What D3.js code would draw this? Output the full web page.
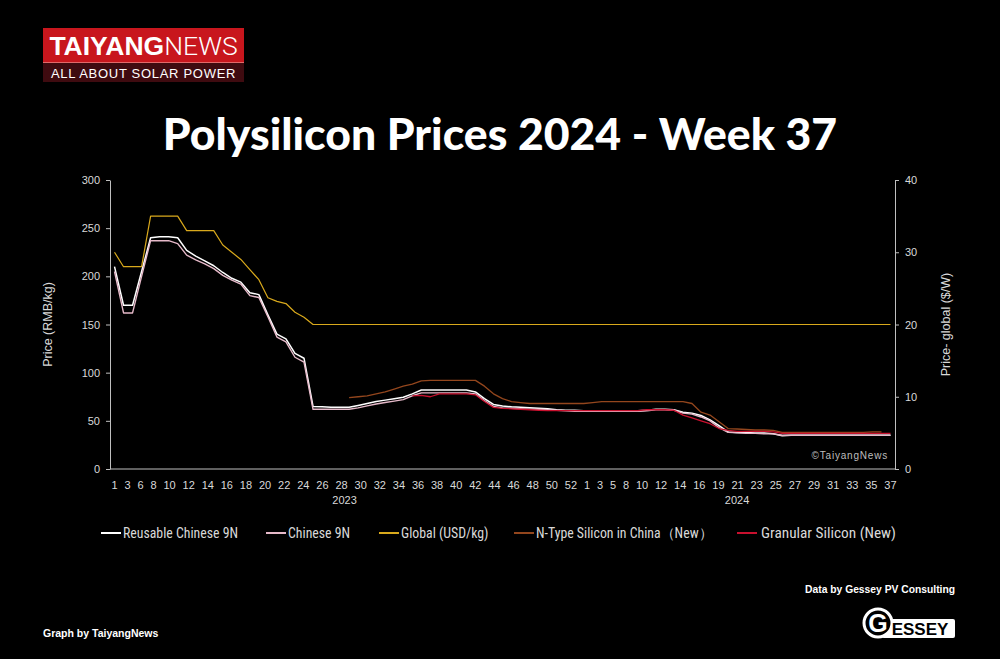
<!DOCTYPE html>
<html>
<head>
<meta charset="utf-8">
<script src="https://cdn.jsdelivr.net/npm/d3@7"></script>
<style>
  html, body { margin: 0; background: #000; }
  svg { display: block; font-family: "Liberation Sans", Arial, sans-serif; }
</style>
</head>
<body>
<svg id="chart" width="1000" height="659"></svg>
<script>
// categories: one point per week, labels shown on every other week
const yearGroups = [
  { year: "2023", count: 52 },
  { year: "2024", count: 35 },
];
const weekLabels = [
  "1", "3", "6", "8", "10", "12", "14", "16", "18", "20", "22", "24", "26",
  "28", "30", "32", "34", "36", "38", "40", "42", "44", "46", "48", "50", "52",
  "1", "3", "5", "8", "10", "12", "14", "16", "19", "21", "23", "25", "27",
  "29", "31", "33", "35", "37",
];
const leftTicks = [0, 50, 100, 150, 200, 250, 300];
const rightTicks = [0, 10, 20, 30, 40];

// RMB/kg
const reusable9N = [
  210, 170, 170, 205, 240, 241, 241, 240, 227, 221, 216, 211, 204, 198, 194, 183,
  181, 160, 140, 135, 120, 115, 65, 64.5, 64, 64, 64, 66, 68, 70, 71.5, 73,
  74.5, 78, 82, 82, 82, 82, 82, 82, 80, 73, 67, 65.5, 64.5, 64, 63.5, 63,
  62.5, 61.5, 61, 61,
  60.5, 60.5, 60.5, 60.5, 60.5, 60.5, 60.5, 61, 62, 62, 61.5, 59, 58, 55.5, 51, 45,
  38.5, 38, 38, 37.5, 37.5, 36.5, 34.5, 35, 35, 35, 35, 35, 35, 35, 35, 35,
  35, 35, 35,
];
const chinese9N = [
  205, 162, 162, 200, 237, 237, 237, 234, 222, 217, 213, 208, 201, 196, 192, 180,
  178, 158, 137, 132, 116, 111, 62, 62, 62, 62, 62, 63.5, 65.5, 67.5, 69, 70.5,
  72, 76, 79, 79, 79, 79, 79, 79, 78, 71, 65, 63.5, 63, 62.5, 62, 62,
  61.5, 61, 60.5, 60,
  60, 60, 60, 60, 60, 60, 60, 60.5, 61.5, 61.5, 61, 58, 57, 54, 50, 43,
  38, 37.5, 37, 37, 36.5, 36.5, 35, 35, 35, 35, 35, 35, 35, 35, 35, 35,
  35, 35, 35,
];
const nTypeChina = [
  null, null, null, null, null, null, null, null, null, null, null, null, null,
  null, null, null, null, null, null, null, null, null, null, null, null, null,
  74, 75, 76, 78, 80, 83, 86, 88, 91.5, 92, 92, 92, 92, 92, 92, 86,
  78, 73, 70, 69, 68, 68, 68, 68, 68, 68,
  68, 69, 70, 70, 70, 70, 70, 70, 70, 70, 70, 70, 68, 59, 56, 49,
  42, 41.5, 41, 40.5, 40.5, 40, 38, 38, 38, 38, 38, 38, 38, 38, 38, 38,
  38.5, 38.5,
];
const granular = [
  null, null, null, null, null, null, null, null, null, null, null, null, null,
  null, null, null, null, null, null, null, null, null, null, null, null, null,
  null, null, null, null, null, null, null,
  76, 76.5, 75, 78, 78, 78, 78, 77, 70, 64, 63, 62.5, 62, 61.5, 61,
  60.5, 60.5, 60.5, 60.5,
  60.5, 60.5, 60.5, 60.5, 60.5, 60.5, 60.5, 61.5, 61.5, 61.5, 61, 56, 53, 50, 47, 42,
  40, 39, 39, 39, 39, 38.5, 37, 37, 37, 37, 37, 37, 37, 37, 37, 37,
  37, 37, 37,
];
// USD/kg, right axis
const globalUsd = [
  30, 28, 28, 28, 35, 35, 35, 35, 33, 33, 33, 33, 31, 30, 29, 27.6,
  26.2, 23.7, 23.2, 22.9, 21.7, 21, 20, 20, 20, 20, 20, 20, 20, 20, 20, 20,
  20, 20, 20, 20, 20, 20, 20, 20, 20, 20, 20, 20, 20, 20, 20, 20,
  20, 20, 20, 20,
  20, 20, 20, 20, 20, 20, 20, 20, 20, 20, 20, 20, 20, 20, 20, 20,
  20, 20, 20, 20, 20, 20, 20, 20, 20, 20, 20, 20, 20, 20, 20, 20,
  20, 20, 20,
];

const series = [
  { name: "Reusable Chinese 9N", values: reusable9N, axis: "left", color: "#ffffff", width: 1.5 },
  { name: "Chinese 9N", values: chinese9N, axis: "left", color: "#e6b9c9", width: 1.4 },
  { name: "Global (USD/kg)", values: globalUsd, axis: "right", color: "#d9a91c", width: 1.2 },
  { name: "N-Type Silicon in China（New）", values: nTypeChina, axis: "left", color: "#93461d", width: 1.3 },
  { name: "Granular Silicon (New)", values: granular, axis: "left", color: "#c8102e", width: 1.3 },
];

const svg = d3.select("#chart");
const W = 1000, H = 659;
const plot = { left: 110, right: 895, top: 180, bottom: 469 };

svg.append("rect").attr("width", W).attr("height", H).attr("fill", "#000");

const nPoints = d3.sum(yearGroups, (d) => d.count);
const idx = d3.range(nPoints);
const x = d3.scalePoint().domain(idx).range([plot.left, plot.right]).padding(0.5);
const yL = d3.scaleLinear().domain([0, 300]).range([plot.bottom, plot.top]);
const yR = d3.scaleLinear().domain([0, 40]).range([plot.bottom, plot.top]);

// logo
const logo = svg.append("g").attr("transform", "translate(43,28)");
logo.append("rect").attr("width", 201).attr("height", 35).attr("fill", "#c8161d");
logo.append("rect").attr("y", 35).attr("width", 201).attr("height", 19).attr("fill", "#3f0b10");
logo.append("rect").attr("y", 34).attr("width", 201).attr("height", 1).attr("fill", "#e06a6a");
logo.append("text")
  .attr("x", 100.5).attr("y", 27).attr("text-anchor", "middle")
  .attr("fill", "#fff").attr("font-size", 26.5)
  .call((t) => t.append("tspan").attr("font-weight", 700).text("TAIYANG"))
  .call((t) => t.append("tspan").attr("font-family", "Roboto, sans-serif").attr("font-weight", 300).text("NEWS"));
logo.append("text")
  .attr("x", 100.5).attr("y", 49.5).attr("text-anchor", "middle")
  .attr("fill", "#fff").attr("font-size", 13).attr("letter-spacing", 0.7)
  .text("ALL ABOUT SOLAR POWER");

// title
svg.append("text")
  .attr("x", 500).attr("y", 150).attr("text-anchor", "middle")
  .attr("fill", "#fff").attr("font-family", "Lato, 'Open Sans', sans-serif")
  .attr("font-weight", 900).attr("font-size", 44.5)
  .text("Polysilicon Prices 2024 - Week 37");

// axes
const axisColor = "#bfbfbf";
const tickColor = "#d9d9d9";

const gL = svg.append("g")
  .attr("transform", `translate(${plot.left},0)`)
  .call(d3.axisLeft(yL).tickValues(leftTicks).tickSizeInner(4).tickSizeOuter(0).tickPadding(6));
const gR = svg.append("g")
  .attr("transform", `translate(${plot.right},0)`)
  .call(d3.axisRight(yR).tickValues(rightTicks).tickSizeInner(4).tickSizeOuter(0).tickPadding(6));
[gL, gR].forEach((g) => {
  g.select(".domain").attr("stroke", axisColor);
  g.selectAll(".tick line").attr("stroke", axisColor);
  g.selectAll(".tick text")
    .attr("fill", tickColor)
    .style("fill", tickColor)
    .attr("font-family", "'Liberation Sans', Arial, sans-serif")
    .attr("font-size", 11);
});

svg.append("line")
  .attr("x1", plot.left).attr("x2", plot.right)
  .attr("y1", plot.bottom).attr("y2", plot.bottom)
  .attr("stroke", axisColor);

svg.append("text")
  .attr("transform", `translate(52,${(plot.top + plot.bottom) / 2}) rotate(-90)`)
  .attr("text-anchor", "middle").attr("fill", tickColor).attr("font-size", 12.5)
  .text("Price (RMB/kg)");
svg.append("text")
  .attr("transform", `translate(950,${(plot.top + plot.bottom) / 2}) rotate(-90)`)
  .attr("text-anchor", "middle").attr("fill", tickColor).attr("font-size", 12.5)
  .text("Price- global ($/W)");

// week labels: evenly gapped between the first and last point
const weekText = svg.append("g")
  .selectAll("text")
  .data(weekLabels)
  .join("text")
  .attr("y", 489)
  .attr("text-anchor", "middle")
  .attr("fill", tickColor)
  .attr("font-size", 11)
  .text((d) => d);
const widths = weekText.nodes().map((n) => n.getComputedTextLength());
const start = x(0) - widths[0] / 2;
const end = x(nPoints - 1) + widths[widths.length - 1] / 2;
const gap = (end - start - d3.sum(widths)) / (widths.length - 1);
let cursor = start;
weekText.attr("x", (d, i) => {
  const cx = cursor + widths[i] / 2;
  cursor += widths[i] + gap;
  return cx;
});

// year labels, centred under their weeks
let offset = 0;
yearGroups.forEach((g) => {
  const cx = (x(offset) + x(offset + g.count - 1)) / 2;
  offset += g.count;
  svg.append("text")
    .attr("x", cx).attr("y", 504).attr("text-anchor", "middle")
    .attr("fill", tickColor).attr("font-size", 11)
    .text(g.year);
});

// lines
const gLines = svg.append("g");
series.forEach((s) => {
  const y = s.axis === "left" ? yL : yR;
  const line = d3.line()
    .defined((d) => d != null)
    .x((d, i) => x(i))
    .y((d) => y(d));
  gLines.append("path")
    .datum(s.values)
    .attr("fill", "none")
    .attr("stroke", s.color)
    .attr("stroke-width", s.width)
    .attr("stroke-linejoin", "round")
    .attr("d", line);
});

svg.append("text")
  .attr("x", 888).attr("y", 459).attr("text-anchor", "end")
  .attr("fill", "#bdbdbd").attr("font-size", 10).attr("letter-spacing", 0.8)
  .text("©TaiyangNews");

// legend
const legendX = [101, 266, 379, 514, 737];
const legend = svg.append("g")
  .selectAll("g")
  .data(series)
  .join("g")
  .attr("transform", (d, i) => `translate(${legendX[i]},533)`);
legend.append("line")
  .attr("x1", 0).attr("x2", 20)
  .attr("stroke", (d) => d.color).attr("stroke-width", 2);
legend.append("text")
  .attr("x", (d, i) => (i === 4 ? 24 : 22)).attr("y", 5)
  .attr("fill", tickColor)
  .attr("font-family", "'Liberation Sans Narrow', 'Roboto Condensed', sans-serif")
  .attr("font-size", (d, i) => (i === 4 ? 15.3 : 13.8))
  .text((d) => d.name);

// credits
svg.append("text")
  .attr("x", 955).attr("y", 593).attr("text-anchor", "end")
  .attr("fill", "#fff").attr("font-weight", 700).attr("font-size", 10.3)
  .text("Data by Gessey PV Consulting");
svg.append("text")
  .attr("x", 43).attr("y", 637)
  .attr("fill", "#fff").attr("font-weight", 700).attr("font-size", 10.5)
  .text("Graph by TaiyangNews");

const gessey = svg.append("g").attr("transform", "translate(862,606)");
gessey.append("rect")
  .attr("x", 20).attr("y", 13).attr("width", 73).attr("height", 19).attr("rx", 2)
  .attr("fill", "#fff");
gessey.append("circle")
  .attr("cx", 16).attr("cy", 17).attr("r", 14)
  .attr("fill", "#000").attr("stroke", "#fff").attr("stroke-width", 3);
gessey.append("text")
  .attr("x", 16).attr("y", 26).attr("text-anchor", "middle")
  .attr("fill", "#fff").attr("font-weight", 700).attr("font-size", 25)
  .text("G");
gessey.append("text")
  .attr("x", 58).attr("y", 29).attr("text-anchor", "middle")
  .attr("fill", "#000").attr("font-weight", 700).attr("font-size", 17)
  .text("ESSEY");
</script>
</body>
</html>
